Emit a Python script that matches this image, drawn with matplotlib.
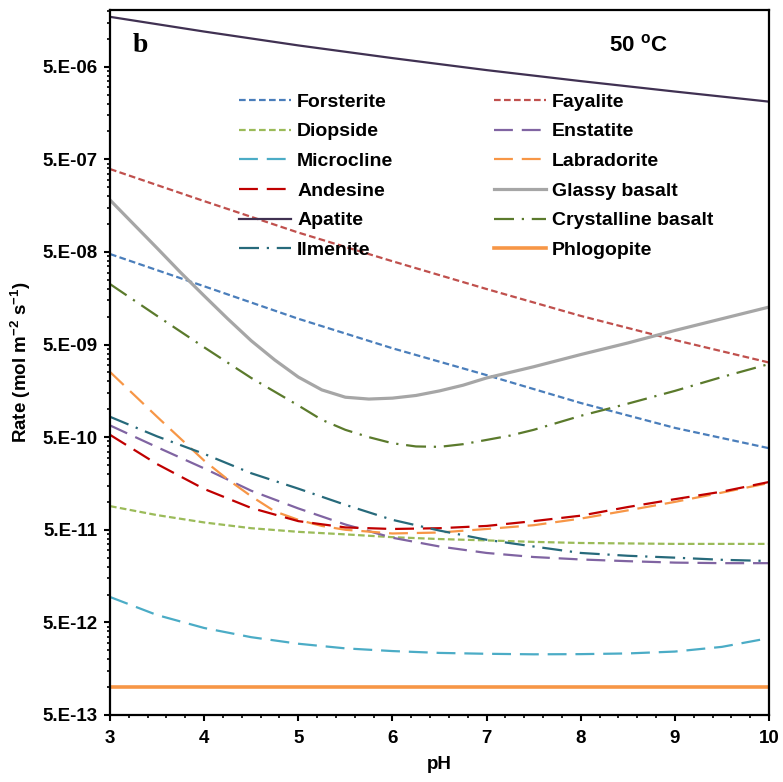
import numpy as np
import matplotlib
matplotlib.use("Agg")
import matplotlib.pyplot as plt
from matplotlib.ticker import FixedLocator, FuncFormatter, MultipleLocator

plt.rcParams['font.family'] = ['Liberation Sans', 'DejaVu Sans']
plt.rcParams['font.weight'] = 'bold'
plt.rcParams['mathtext.fontset'] = 'custom'
plt.rcParams['mathtext.rm'] = 'Liberation Sans:bold'
plt.rcParams['mathtext.it'] = 'Liberation Sans:bold'
plt.rcParams['mathtext.bf'] = 'Liberation Sans:bold'
plt.rcParams['mathtext.default'] = 'bf'

# pH grids
ph_int = [3, 4, 5, 6, 7, 8, 9, 10]
ph_half = [3, 3.5, 4, 4.5, 5, 5.5, 6, 6.5, 7, 7.5, 8, 8.5, 9, 9.5, 10]
ph_glassy = [3, 3.25, 3.5, 3.75, 4, 4.25, 4.5, 4.75, 5, 5.25, 5.5, 5.75, 6, 6.25, 6.5,
             6.75, 7, 7.5, 8, 8.5, 9, 9.5, 10]
ph_cryst = [3, 3.5, 4, 4.5, 5, 5.25, 5.5, 5.75, 6, 6.25, 6.5, 6.75, 7, 7.25, 7.5,
            8, 8.5, 9, 9.5, 10]
ph_labr = [3, 3.5, 4, 4.25, 4.5, 4.75, 5, 5.25, 5.5, 6, 6.5, 7, 7.5, 8, 8.5, 9, 9.5, 10]

# rates (mol m-2 s-1), 50 oC
forsterite = [4.75e-8, 2.13e-8, 9.5e-9, 4.56e-9, 2.34e-9, 1.17e-9, 6.3e-10, 3.8e-10]
fayalite = [3.93e-7, 1.77e-7, 8.1e-8, 3.97e-8, 1.99e-8, 1.02e-8, 5.6e-9, 3.2e-9]
apatite = [1.73e-5, 1.2e-5, 8.5e-6, 6.2e-6, 4.6e-6, 3.5e-6, 2.7e-6, 2.1e-6]
phlogopite = [1.0e-12] * 8

diopside = [9.0e-11, 7.2e-11, 6.0e-11, 5.2e-11, 4.75e-11, 4.46e-11, 4.16e-11, 3.97e-11,
            3.84e-11, 3.7e-11, 3.6e-11, 3.56e-11, 3.52e-11, 3.52e-11, 3.52e-11]
enstatite = [6.7e-10, 3.9e-10, 2.3e-10, 1.32e-10, 8.5e-11, 5.7e-11, 4.1e-11, 3.3e-11,
             2.81e-11, 2.54e-11, 2.39e-11, 2.29e-11, 2.21e-11, 2.18e-11, 2.18e-11]
microcline = [9.4e-12, 6.0e-12, 4.35e-12, 3.46e-12, 2.94e-12, 2.62e-12, 2.45e-12, 2.34e-12,
              2.29e-12, 2.26e-12, 2.27e-12, 2.31e-12, 2.42e-12, 2.72e-12, 3.38e-12]
labradorite = [2.53e-9, 8.3e-10, 2.79e-10, 1.75e-10, 1.15e-10, 7.9e-11, 6.4e-11, 5.5e-11,
               5.0e-11, 4.56e-11, 4.67e-11, 5.1e-11, 5.6e-11, 6.6e-11, 8.1e-11, 1.0e-10,
               1.26e-10, 1.6e-10]
andesine = [5.3e-10, 2.56e-10, 1.38e-10, 8.6e-11, 6.2e-11, 5.3e-11, 5.1e-11, 5.2e-11,
            5.5e-11, 6.2e-11, 7.1e-11, 8.8e-11, 1.07e-10, 1.29e-10, 1.64e-10]
glassy_basalt = [1.82e-7, 1.0e-7, 5.5e-8, 3.0e-8, 1.68e-8, 9.5e-9, 5.5e-9, 3.41e-9, 2.23e-9,
                 1.62e-9, 1.35e-9, 1.29e-9, 1.32e-9, 1.41e-9, 1.58e-9, 1.82e-9, 2.18e-9,
                 2.88e-9, 3.9e-9, 5.2e-9, 7.1e-9, 9.5e-9, 1.27e-8]
cryst_basalt = [2.25e-8, 1.02e-8, 4.67e-9, 2.18e-9, 1.10e-9, 7.7e-10, 6.0e-10, 5.0e-10,
                4.3e-10, 3.97e-10, 3.93e-10, 4.2e-10, 4.67e-10, 5.2e-10, 6.0e-10,
                8.5e-10, 1.15e-9, 1.58e-9, 2.23e-9, 3.08e-9]
ilmenite = [8.3e-10, 5.1e-10, 3.3e-10, 2.04e-10, 1.39e-10, 9.3e-11, 6.4e-11, 4.9e-11,
            3.9e-11, 3.3e-11, 2.81e-11, 2.62e-11, 2.5e-11, 2.37e-11, 2.3e-11]

yticks = [5e-13, 5e-12, 5e-11, 5e-10, 5e-9, 5e-8, 5e-7, 5e-6]

short = (0, (3, 1.5))
long_ = (0, (8.5, 4))
dashdot = (0, (9, 3.5, 1, 3.5))
lw = 1.6

fig = plt.figure(figsize=(7.83, 7.82), dpi=100)
ax = fig.add_axes([0.1405, 0.0857, 0.8416, 0.9015])

lines = {}
lines['Forsterite'], = ax.plot(ph_int, forsterite, color='#4A7EBB', ls=short, lw=lw)
lines['Fayalite'], = ax.plot(ph_int, fayalite, color='#C0504D', ls=short, lw=lw)
lines['Diopside'], = ax.plot(ph_half, diopside, color='#9BBB59', ls=short, lw=lw)
lines['Enstatite'], = ax.plot(ph_half, enstatite, color='#8064A2', ls=long_, lw=lw)
lines['Microcline'], = ax.plot(ph_half, microcline, color='#4BACC6', ls=long_, lw=lw)
lines['Labradorite'], = ax.plot(ph_labr, labradorite, color='#F79646', ls=long_, lw=lw)
lines['Andesine'], = ax.plot(ph_half, andesine, color='#C00000', ls=long_, lw=lw)
lines['Glassy basalt'], = ax.plot(ph_glassy, glassy_basalt, color='#A6A6A6', ls='-', lw=2.3)
lines['Apatite'], = ax.plot(ph_int, apatite, color='#403152', ls='-', lw=lw)
lines['Crystalline basalt'], = ax.plot(ph_cryst, cryst_basalt, color='#5B7A2C', ls=dashdot, lw=lw)
lines['Ilmenite'], = ax.plot(ph_half, ilmenite, color='#276A7B', ls=dashdot, lw=lw)
lines['Phlogopite'], = ax.plot(ph_int, phlogopite, color='#F79646', ls='-', lw=2.6)

ax.set_yscale('log')
ax.set_xlim(3, 10)
ax.set_ylim(5e-13, 2.05e-5)

ax.yaxis.set_major_locator(FixedLocator(yticks))
ax.yaxis.set_minor_locator(FixedLocator([t * k for t in yticks for k in range(2, 10)]))
ax.yaxis.set_major_formatter(FuncFormatter(lambda v, p: "5.E-%02d" % round(-np.log10(v / 5))))
ax.yaxis.set_minor_formatter(FuncFormatter(lambda v, p: ""))
ax.xaxis.set_major_locator(MultipleLocator(1))
ax.xaxis.set_minor_locator(MultipleLocator(0.2))

ax.tick_params(which='major', direction='out', length=4, width=1.5, labelsize=13.5, pad=5)
ax.tick_params(axis='x', which='major', pad=7)
ax.tick_params(which='minor', direction='out', length=2.5, width=1.2)
for s in ax.spines.values():
    s.set_linewidth(1.6)

ax.set_ylabel('Rate (mol m$^{-2}$ s$^{-1}$)', fontsize=13.5, fontweight='bold')
ax.yaxis.label.set_va('center')
ax.yaxis.set_label_coords(-0.135, 0.5)
ax.set_xlabel('pH', fontsize=13.5, fontweight='bold')
ax.xaxis.label.set_va('center')
ax.xaxis.set_label_coords(0.5, -0.07)

ax.text(0.0455, 0.95, 'b', transform=ax.transAxes, ha='center', va='center',
        family=['Liberation Serif', 'DejaVu Serif'], fontsize=20, fontweight='bold')
ax.text(0.801, 0.95, '50 $^{o}$C', transform=ax.transAxes, ha='center', va='center',
        fontsize=16, fontweight='bold')

order = ['Forsterite', 'Diopside', 'Microcline', 'Andesine', 'Apatite', 'Ilmenite',
         'Fayalite', 'Enstatite', 'Labradorite', 'Glassy basalt', 'Crystalline basalt', 'Phlogopite']
ax.legend([lines[k] for k in order], order, ncol=2, loc='upper left',
          bbox_to_anchor=(0.1958, 0.882), frameon=False, fontsize=14,
          handlelength=2.68, handletextpad=0.31, columnspacing=5.15,
          labelspacing=0.62, borderpad=0, borderaxespad=0)

fig.savefig('out.png', dpi=100)
